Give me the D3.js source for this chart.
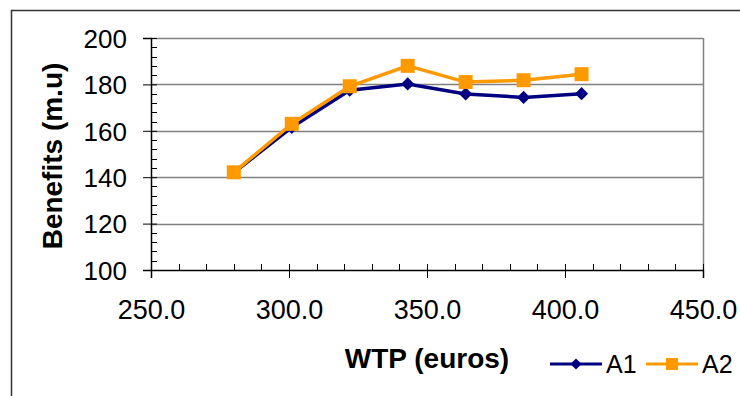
<!DOCTYPE html>
<html><head><meta charset="utf-8">
<script src="https://cdn.jsdelivr.net/npm/d3@7"></script>
<style>body{margin:0;background:#fff}svg{display:block;font-family:"Liberation Sans",Arial,sans-serif}</style>
</head><body><svg id="c" width="740" height="396"></svg>
<script>
const wtpA1 = [280, 301, 322, 343, 364, 385, 406];
const benefitsA1 = [142, 161.5, 177.5, 180.2, 175.9, 174.4, 176.0];
const wtpA2 = [280, 301, 322, 343, 364, 385, 406];
const benefitsA2 = [142.1, 163.0, 179.2, 188.0, 181.0, 181.8, 184.4];
const seriesNames = ["A1", "A2"];
const xTicks = [250, 300, 350, 400, 450];
const yTicks = [100, 120, 140, 160, 180, 200];
const xTitle = "WTP (euros)";
const yTitle = "Benefits (m.u)";

const svg = d3.select("#c");
const L = 151, R = 703, T = 38, B = 270;
const x = d3.scaleLinear().domain([250, 450]).range([L, R]);
const y = d3.scaleLinear().domain([100, 200]).range([B, T]);
const FONT = "Liberation Sans, Arial, sans-serif";

// outer chart border (left & top)
svg.append("path").attr("d", "M11.5,396 V10.5 H740").attr("fill", "none").attr("stroke", "#333").attr("stroke-width", 1.5);

// gridlines
svg.append("g").selectAll("line").data(yTicks.slice(1)).join("line")
  .attr("x1", L).attr("x2", R).attr("y1", d => Math.round(y(d)) + 0.5).attr("y2", d => Math.round(y(d)) + 0.5)
  .attr("stroke", "#808080").attr("stroke-width", 1.5);
svg.append("line").attr("x1", R + 0.5).attr("x2", R + 0.5).attr("y1", T).attr("y2", B).attr("stroke", "#808080").attr("stroke-width", 1.5);

// minor ticks
const yMinor = d3.range(100, 200.1, 4).filter(v => v % 20 !== 0);
svg.append("g").selectAll("line").data(yMinor).join("line")
  .attr("x1", L).attr("x2", L + 6).attr("y1", d => Math.round(y(d)) + 0.5).attr("y2", d => Math.round(y(d)) + 0.5)
  .attr("stroke", "#000").attr("stroke-width", 1);
const xMinor = d3.range(250, 450.1, 10).filter(v => v % 50 !== 0);
svg.append("g").selectAll("line").data(xMinor).join("line")
  .attr("x1", d => Math.round(x(d)) + 0.5).attr("x2", d => Math.round(x(d)) + 0.5).attr("y1", B - 6).attr("y2", B)
  .attr("stroke", "#000").attr("stroke-width", 1);

// axes
const yAxis = d3.axisLeft(y).tickValues(yTicks).tickSize(8).tickFormat(d3.format("d"));
const gy = svg.append("g").attr("transform", `translate(${L},0)`).call(yAxis);
gy.select(".domain").attr("stroke", "#000").attr("stroke-width", 1.5);
gy.selectAll(".tick line").attr("stroke", "#000").attr("x2", -8).attr("x1", 6);
gy.selectAll("text").attr("font-size", 26).attr("fill", "#000").attr("font-family", FONT)
  .attr("x", -24).attr("dy", "0.36em");

const xAxis = d3.axisBottom(x).tickValues(xTicks).tickSize(8).tickFormat(d3.format(".1f"));
const gx = svg.append("g").attr("transform", `translate(0,${B})`).call(xAxis);
gx.select(".domain").attr("stroke", "#000").attr("stroke-width", 1.5);
gx.selectAll(".tick line").attr("stroke", "#000").attr("y1", -6);
gx.selectAll("text").attr("font-size", 27).attr("fill", "#000").attr("font-family", FONT)
  .attr("y", 49).attr("dy", 0);

// titles
svg.append("text").attr("x", (L + R) / 2).attr("y", 368).attr("text-anchor", "middle")
  .attr("font-size", 28).attr("font-weight", "bold").text(xTitle);
svg.append("text").attr("transform", `translate(62,156) rotate(-90)`).attr("text-anchor", "middle")
  .attr("font-size", 28).attr("font-weight", "bold").text(yTitle);

// series
const line = d3.line().x(d => x(d[0])).y(d => y(d[1]));
const dA1 = wtpA1.map((v, i) => [v, benefitsA1[i]]);
const dA2 = wtpA2.map((v, i) => [v, benefitsA2[i]]);
const c1 = "#000080", c2 = "#FF9900";
svg.append("path").datum(dA1).attr("d", line).attr("fill", "none").attr("stroke", c1).attr("stroke-width", 3.5);
svg.append("g").selectAll("path").data(dA1).join("path")
  .attr("d", d3.symbol(d3.symbolDiamond2, 110)).attr("transform", d => `translate(${x(d[0])},${y(d[1])})`)
  .attr("fill", c1);
svg.append("path").datum(dA2).attr("d", line).attr("fill", "none").attr("stroke", c2).attr("stroke-width", 3.5);
svg.append("g").selectAll("rect").data(dA2).join("rect")
  .attr("x", d => x(d[0]) - 7).attr("y", d => y(d[1]) - 7).attr("width", 14).attr("height", 14).attr("fill", c2);

// legend
const ly = 364;
const lg = svg.append("g");
lg.append("line").attr("x1", 550).attr("x2", 602).attr("y1", ly).attr("y2", ly).attr("stroke", c1).attr("stroke-width", 3);
lg.append("path").attr("d", d3.symbol(d3.symbolDiamond2, 80)).attr("transform", `translate(576,${ly})`).attr("fill", c1);
lg.append("text").attr("x", 606).attr("y", ly + 9).attr("font-size", 25).text(seriesNames[0]);
lg.append("line").attr("x1", 646).attr("x2", 698).attr("y1", ly).attr("y2", ly).attr("stroke", c2).attr("stroke-width", 3);
lg.append("rect").attr("x", 666).attr("y", ly - 6).attr("width", 12).attr("height", 12).attr("fill", c2);
lg.append("text").attr("x", 702).attr("y", ly + 9).attr("font-size", 25).text(seriesNames[1]);
</script></body></html>
